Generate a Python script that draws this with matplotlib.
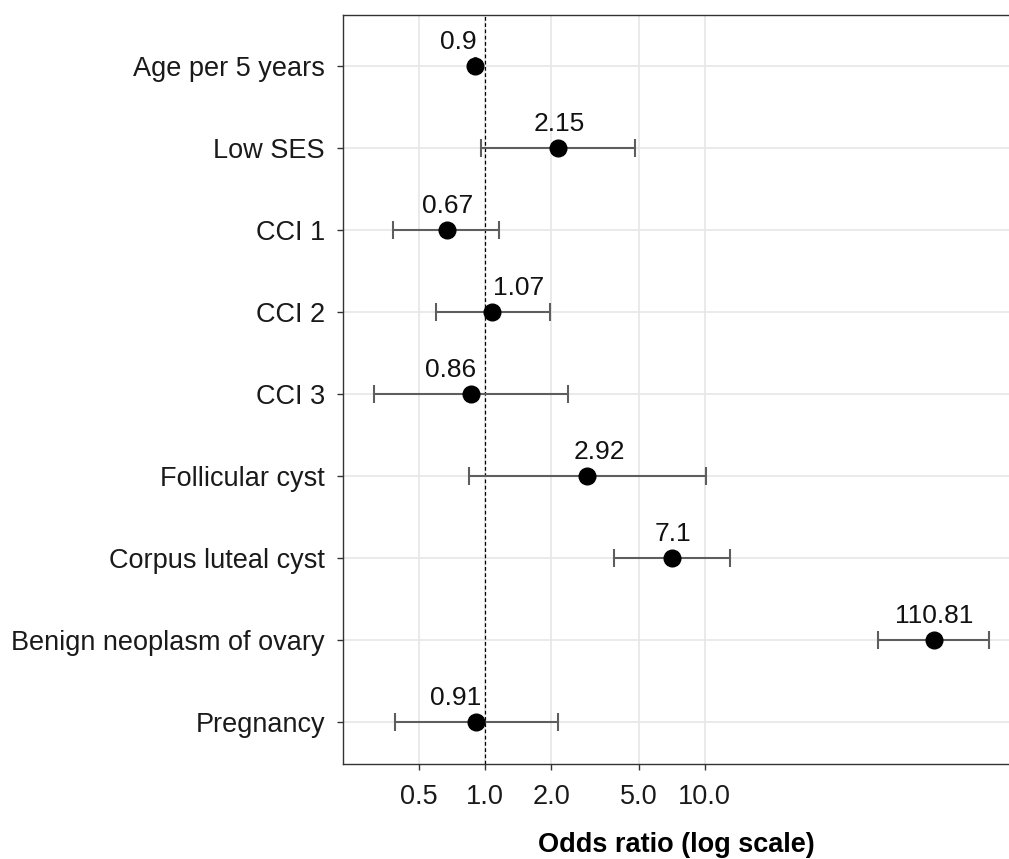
import numpy as np
import matplotlib
matplotlib.use("Agg")
import matplotlib.pyplot as plt

plt.rcParams['font.family'] = ['Liberation Sans', 'DejaVu Sans']

# === data ===
labels = ["Age per 5 years", "Low SES", "CCI 1", "CCI 2", "CCI 3",
          "Follicular cyst", "Corpus luteal cyst", "Benign neoplasm of ovary", "Pregnancy"]
odds = [0.9, 2.15, 0.67, 1.07, 0.86, 2.92, 7.1, 110.81, 0.91]
ci_low = [0.895, 0.96, 0.38, 0.60, 0.31, 0.845, 3.88, 61.7, 0.39]
ci_high = [0.905, 4.84, 1.16, 1.97, 2.39, 10.2, 13.1, 198.0, 2.15]
x_breaks = [0.5, 1.0, 2.0, 5.0, 10.0]

# label nudges in pixels (text sits beside the dashed line in the original)
label_dx = [-17, 1, 1, 27, -20, 12, 1, 0, -21]

fig = plt.figure(figsize=(10.09, 8.59), dpi=100)
ax = fig.add_axes([343 / 1009, 1 - 764 / 859, 1 - 343 / 1009, (764 - 15) / 859])

n = len(labels)
ypos = np.arange(n)[::-1] + 1  # first label at top

ax.set_xscale('log')
ax.set_xlim(0.225, 244)
ax.set_ylim(0.484, n + 0.618)

# grid
for b in x_breaks:
    ax.axvline(b, color='#e6e6e6', lw=1.2, zorder=0)
for y in ypos:
    ax.axhline(y, color='#e6e6e6', lw=1.2, zorder=0)

ax.axvline(1.0, color='black', lw=0.9, ls=(0, (3, 2)), zorder=1)

err = [np.array(odds) - np.array(ci_low), np.array(ci_high) - np.array(odds)]
ax.errorbar(odds, ypos, xerr=err, fmt='none', ecolor='#5e5e5e', elinewidth=1.5,
            capsize=6.5, capthick=1.5, zorder=2)
ax.plot(odds, ypos, 'o', color='black', ms=12, zorder=3)

for o, y, dx in zip(odds, ypos, label_dx):
    ax.annotate(f"{o:g}", (o, y), xytext=(dx * 0.72, 17), textcoords='offset points',
                ha='center', va='center', fontsize=19, color='#111111')

ax.set_xticks(x_breaks)
ax.set_xticklabels([f"{b:.1f}" for b in x_breaks])
ax.xaxis.set_minor_locator(matplotlib.ticker.NullLocator())
ax.set_yticks(ypos)
ax.set_yticklabels(labels)
ax.tick_params(axis='both', labelsize=19.5, colors='#333333', labelcolor='#1a1a1a',
               length=4, width=1)
ax.tick_params(axis='x', pad=10.5)
ax.tick_params(axis='y', pad=9)

for side in ['left', 'bottom', 'top']:
    ax.spines[side].set_color('#333333')
    ax.spines[side].set_linewidth(1.0)
ax.spines['right'].set_visible(False)

ax.set_xlabel("Odds ratio (log scale)", fontsize=19.5, fontweight='bold', labelpad=15.5)

fig.savefig("out.png", dpi=100)
